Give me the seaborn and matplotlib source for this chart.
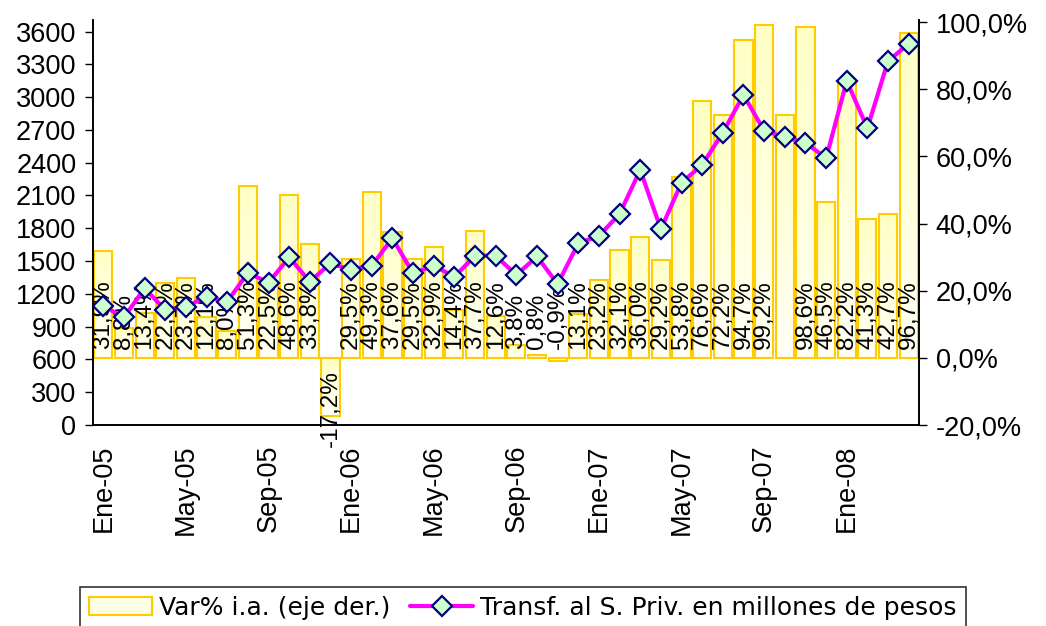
import numpy as np
import pandas as pd
import matplotlib
matplotlib.use("Agg")
import matplotlib.pyplot as plt
import seaborn as sns
from matplotlib.colors import LinearSegmentedColormap
from matplotlib.patches import Patch
from matplotlib.lines import Line2D

# ---------------- data ----------------
meses = ["Ene-05", "Feb-05", "Mar-05", "Abr-05", "May-05", "Jun-05", "Jul-05", "Ago-05",
         "Sep-05", "Oct-05", "Nov-05", "Dic-05", "Ene-06", "Feb-06", "Mar-06", "Abr-06",
         "May-06", "Jun-06", "Jul-06", "Ago-06", "Sep-06", "Oct-06", "Nov-06", "Dic-06",
         "Ene-07", "Feb-07", "Mar-07", "Abr-07", "May-07", "Jun-07", "Jul-07", "Ago-07",
         "Sep-07", "Oct-07", "Nov-07", "Dic-07", "Ene-08", "Feb-08", "Mar-08", "Abr-08"]

var_ia = [31.9, 8.8, 13.4, 22.4, 23.7, 12.1, 8.0, 51.3, 22.5, 48.6, 33.8, -17.2,
          29.5, 49.3, 37.6, 29.5, 32.9, 14.4, 37.7, 12.6, 3.8, 0.8, -0.9, 13.1,
          23.2, 32.1, 36.0, 29.2, 53.8, 76.6, 72.2, 94.7, 99.2, 72.4, 98.6, 46.5,
          82.2, 41.3, 42.7, 96.7]

etiquetas = ["31,9%", "8,8%", "13,4%", "22,4%", "23,7%", "12,1%", "8,0%", "51,3%",
             "22,5%", "48,6%", "33,8%", "-17,2%", "29,5%", "49,3%", "37,6%", "29,5%",
             "32,9%", "14,4%", "37,7%", "12,6%", "3,8%", "0,8%", "-0,9%", "13,1%",
             "23,2%", "32,1%", "36,0%", "29,2%", "53,8%", "76,6%", "72,2%", "94,7%",
             "99,2%", "", "98,6%", "46,5%", "82,2%", "41,3%", "42,7%", "96,7%"]

transf = [1089, 985, 1251, 1052, 1083, 1174, 1128, 1394, 1302, 1535, 1311, 1480,
          1418, 1458, 1709, 1388, 1458, 1357, 1549, 1549, 1373, 1542, 1290, 1663,
          1730, 1931, 2334, 1791, 2218, 2380, 2675, 3020, 2693, 2633, 2584, 2441,
          3148, 2715, 3331, 3487]

left_ticks = list(range(0, 3601, 300))
right_ticks = [-20, 0, 20, 40, 60, 80, 100]

label_bar = "Var% i.a. (eje der.)"
label_line = "Transf. al S. Priv. en millones de pesos"

df = pd.DataFrame({"mes": meses, "var": var_ia, "transf": transf})
df["pos"] = np.arange(len(df))

# ---------------- figure ----------------
sns.set_style("white")
plt.rcParams["font.family"] = ["DejaVu Sans"]
plt.rcParams.update({"text.color": "black", "xtick.color": "black",
                     "ytick.color": "black", "axes.labelcolor": "black",
                     "axes.edgecolor": "black"})
fig = plt.figure(figsize=(10.46, 6.26), dpi=100)
ax = fig.add_axes([0.0889, 0.321, 0.8786 - 0.0889, 0.968 - 0.321])

gold = "#FFCC00"
sns.barplot(data=df, x="mes", y="var", ax=ax, color="#FFFFCC", saturation=1,
            width=0.88, edgecolor=gold, linewidth=1.5, zorder=2)

# gradient fill for bars
cmap = LinearSegmentedColormap.from_list("g", ["#FFFFF6", "#FFFFC6"])
grad = np.linspace(0, 1, 100).reshape(-1, 1)
for p in list(ax.patches):
    x0, y0 = p.get_x(), p.get_y()
    w, h = p.get_width(), p.get_height()
    y_lo, y_hi = min(y0, y0 + h), max(y0, y0 + h)
    im = ax.imshow(grad, extent=[x0, x0 + w, y_lo, y_hi], origin="lower",
                   aspect="auto", cmap=cmap, zorder=1.5, interpolation="bilinear")
    im.set_clip_path(p)
    p.set_facecolor("none")

# bar labels
for i, (v, t) in enumerate(zip(var_ia, etiquetas)):
    if not t:
        continue
    if v < -5:
        ax.text(i, -3.5, t, rotation=90, ha="center", va="top", fontsize=17.5,
                family="Liberation Sans", color="black", zorder=3)
    else:
        ax.text(i, 2.6, t, rotation=90, ha="center", va="bottom", fontsize=17.5,
                family="Liberation Sans", color="black", zorder=3)

# line on twin axis (drawn on top)
ax2 = ax.twinx()
sns.lineplot(x=df["pos"], y=df["transf"], ax=ax2, color="#FF00FF", linewidth=3,
             marker="D", markersize=10, markerfacecolor="#CCFFCC",
             markeredgecolor="#000080", markeredgewidth=1.6, zorder=5)

# bar axis -> right side
ax.set_ylim(-20, 100.6)
ax.set_xlim(-0.5, len(meses) - 0.5)
ax.yaxis.tick_right()
ax.yaxis.set_label_position("right")
ax.set_yticks(right_ticks)
ax.set_yticklabels([f"{t:.1f}".replace(".", ",") + "%" for t in right_ticks],
                   family="Liberation Sans", fontsize=19.5)
ax.tick_params(axis="y", which="both", left=False, labelleft=False, right=True,
               labelright=True, direction="out", length=6, width=1, color="black",
               labelcolor="black", pad=6)
ax.set_xlabel("")
ax.set_ylabel("")

# x ticks: labels every 4 months at centres, marks at boundaries
ax.set_xticks(np.arange(0, len(meses), 4))
ax.set_xticklabels(meses[::4], rotation=90, family="Liberation Sans", fontsize=19.5)
ax.set_xticks(np.arange(-0.5, len(meses), 1), minor=True)
ax.tick_params(axis="x", which="major", length=0, pad=14, labelcolor="black")
ax.tick_params(axis="x", which="minor", direction="out", length=7, width=1, color="black")

# line axis -> left side
ax2.yaxis.tick_left()
ax2.yaxis.set_label_position("left")
ax2.set_ylim(0, 3705)
ax2.set_yticks(left_ticks)
ax2.set_yticklabels([str(t) for t in left_ticks], family="Liberation Sans", fontsize=19.5)
ax2.tick_params(axis="y", which="both", right=False, labelright=False, left=True,
                labelleft=True, direction="out", length=6, width=1, color="black",
                labelcolor="black", pad=6)
ax2.set_xlabel("")
ax2.set_ylabel("")
ax2.set_xlim(-0.5, len(meses) - 0.5)

for a in (ax, ax2):
    a.spines["top"].set_visible(False)
    for s in ("left", "right", "bottom"):
        a.spines[s].set_color("black")
        a.spines[s].set_linewidth(1.2)
    a.grid(False)

# legend
handles = [
    Patch(facecolor="#FFFFE4", edgecolor=gold, linewidth=1.5, label=label_bar),
    Line2D([0], [0], color="#FF00FF", linewidth=3, marker="D", markersize=10,
           markerfacecolor="#CCFFCC", markeredgecolor="#000080",
           markeredgewidth=1.6, label=label_line),
]
leg = fig.legend(handles=handles, loc="upper center", bbox_to_anchor=(0.5, 0.062),
                 ncol=2, frameon=True, fancybox=False, edgecolor="black",
                 fontsize=18, handlelength=2.5, handletextpad=0.3,
                 columnspacing=0.8, borderpad=0.35, borderaxespad=0)
leg.get_frame().set_linewidth(1.2)
for txt in leg.get_texts():
    txt.set_color("black")

fig.savefig("out.png", dpi=100)
